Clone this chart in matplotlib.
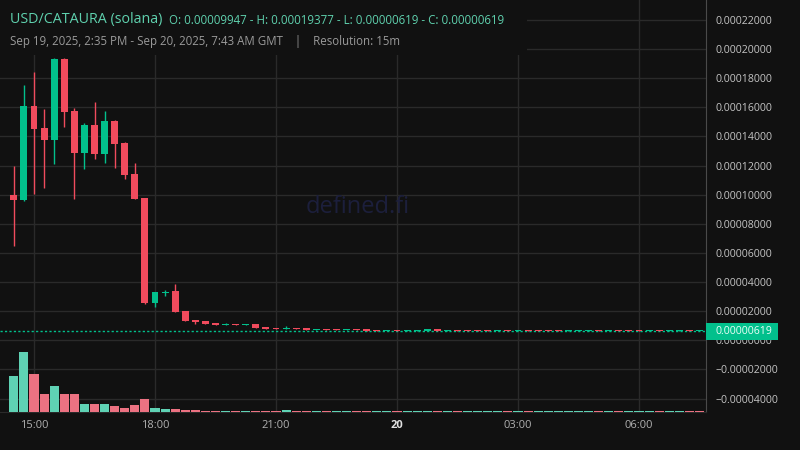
import matplotlib
matplotlib.use('Agg')
import matplotlib.pyplot as plt
import matplotlib.dates as mdates
from matplotlib.patches import Rectangle
from matplotlib.transforms import blended_transform_factory
from datetime import datetime, timedelta
import numpy as np

plt.rcParams['font.family'] = ['Open Sans', 'DejaVu Sans']
plt.rcParams['lines.scale_dashes'] = False

# ---------------- data ----------------
start_time = datetime(2025, 9, 19, 14, 30)
interval_minutes = 15

opens = [9.947e-5, 9.64e-5, 1.609e-4, 1.458e-4, 1.376e-4, 1.932e-4, 1.575e-4, 1.286e-4, 1.479e-4, 1.280e-4,
         1.506e-4, 1.355e-4, 1.142e-4, 9.77e-5, 2.56e-5, 3.25e-5, 3.39e-5, 2.01e-5, 1.39e-5, 1.30e-5,
         1.19e-5, 1.05e-5, 1.10e-5, 1.05e-5, 1.12e-5, 9.10e-6, 8.20e-6, 7.70e-6, 8.20e-6, 8.20e-6,
         7.00e-6, 7.70e-6, 7.70e-6, 7.10e-6, 7.70e-6, 7.70e-6, 7.00e-6, 6.40e-6, 7.00e-6, 6.40e-6,
         6.40e-6, 6.40e-6, 7.70e-6, 6.40e-6, 7.00e-6, 7.00e-6, 7.00e-6, 7.00e-6, 6.40e-6, 7.00e-6,
         6.40e-6, 7.00e-6, 7.00e-6, 7.00e-6, 7.00e-6, 6.40e-6, 6.40e-6, 6.40e-6, 7.00e-6, 6.40e-6,
         7.00e-6, 7.00e-6, 7.00e-6, 6.40e-6, 7.00e-6, 6.40e-6, 6.40e-6, 7.00e-6, 6.19e-6]
highs = [1.197e-4, 1.753e-4, 1.843e-4, 1.589e-4, 1.9377e-4, 1.937e-4, 1.595e-4, 1.492e-4, 1.637e-4, 1.575e-4,
         1.513e-4, 1.360e-4, 1.218e-4, 9.80e-5, 3.32e-5, 3.45e-5, 3.87e-5, 2.01e-5, 1.39e-5, 1.30e-5,
         1.19e-5, 1.19e-5, 1.10e-5, 1.10e-5, 1.12e-5, 9.10e-6, 8.20e-6, 9.80e-6, 8.20e-6, 8.20e-6,
         7.70e-6, 7.70e-6, 7.70e-6, 7.70e-6, 7.70e-6, 7.70e-6, 7.00e-6, 7.00e-6, 7.00e-6, 7.00e-6,
         7.00e-6, 7.70e-6, 7.70e-6, 7.00e-6, 7.00e-6, 7.00e-6, 7.00e-6, 7.00e-6, 7.00e-6, 7.00e-6,
         7.00e-6, 7.00e-6, 7.00e-6, 7.00e-6, 7.00e-6, 7.00e-6, 7.00e-6, 7.00e-6, 7.00e-6, 7.00e-6,
         7.00e-6, 7.00e-6, 7.00e-6, 7.00e-6, 7.00e-6, 7.00e-6, 7.00e-6, 7.00e-6, 6.30e-6]
lows = [6.48e-5, 9.60e-5, 1.005e-4, 1.046e-4, 1.211e-4, 1.465e-4, 9.70e-5, 1.176e-4, 1.245e-4, 1.218e-4,
        1.183e-4, 1.108e-4, 9.70e-5, 2.49e-5, 2.29e-5, 3.04e-5, 1.94e-5, 1.30e-5, 1.13e-5, 1.10e-5,
        1.03e-5, 1.05e-5, 1.05e-5, 1.05e-5, 8.45e-6, 7.80e-6, 7.70e-6, 7.70e-6, 7.70e-6, 7.00e-6,
        7.00e-6, 7.10e-6, 7.10e-6, 7.10e-6, 7.10e-6, 6.40e-6, 6.40e-6, 6.40e-6, 6.40e-6, 6.40e-6,
        6.40e-6, 6.40e-6, 6.40e-6, 6.40e-6, 6.40e-6, 6.40e-6, 6.40e-6, 6.40e-6, 6.40e-6, 6.40e-6,
        6.40e-6, 6.40e-6, 6.40e-6, 6.40e-6, 6.40e-6, 6.40e-6, 6.40e-6, 6.40e-6, 6.40e-6, 6.40e-6,
        6.40e-6, 6.40e-6, 6.40e-6, 6.40e-6, 6.40e-6, 6.40e-6, 6.40e-6, 6.40e-6, 6.19e-6]
closes = [9.64e-5, 1.609e-4, 1.451e-4, 1.376e-4, 1.932e-4, 1.568e-4, 1.286e-4, 1.479e-4, 1.280e-4, 1.506e-4,
          1.348e-4, 1.135e-4, 9.70e-5, 2.56e-5, 3.32e-5, 3.35e-5, 1.94e-5, 1.33e-5, 1.26e-5, 1.12e-5,
          1.05e-5, 1.10e-5, 1.05e-5, 1.10e-5, 8.45e-6, 7.80e-6, 7.70e-6, 8.20e-6, 7.70e-6, 7.00e-6,
          7.70e-6, 7.10e-6, 7.10e-6, 7.70e-6, 7.10e-6, 6.40e-6, 6.40e-6, 7.00e-6, 6.40e-6, 7.00e-6,
          7.00e-6, 7.70e-6, 6.40e-6, 7.00e-6, 6.40e-6, 6.40e-6, 6.40e-6, 6.40e-6, 7.00e-6, 6.40e-6,
          7.00e-6, 6.40e-6, 6.40e-6, 6.40e-6, 6.40e-6, 7.00e-6, 7.00e-6, 7.00e-6, 6.40e-6, 7.00e-6,
          6.40e-6, 6.40e-6, 6.40e-6, 7.00e-6, 6.40e-6, 7.00e-6, 7.00e-6, 6.40e-6, 6.19e-6]
volumes = [3570, 5970, 3770, 1770, 2570, 1770, 1770, 770, 770, 770,
           570, 370, 670, 1270, 370, 270, 270, 170, 170, 70,
           80, 70, 60, 70, 80, 70, 60, 170, 60, 70,
           60, 60, 70, 60, 60, 70, 60, 60, 60, 60,
           60, 70, 70, 60, 60, 60, 60, 60, 60, 60,
           60, 60, 60, 60, 60, 60, 60, 60, 60, 60,
           60, 60, 60, 60, 60, 60, 60, 60, 60]

price_ticks = [-0.00004, -0.00002, 0.0, 0.00002, 0.00004, 0.00006, 0.00008, 0.00010,
               0.00012, 0.00014, 0.00016, 0.00018, 0.00020, 0.00022]
time_ticks = [datetime(2025, 9, 19, 15), datetime(2025, 9, 19, 18), datetime(2025, 9, 19, 21),
              datetime(2025, 9, 20, 0), datetime(2025, 9, 20, 3), datetime(2025, 9, 20, 6)]
time_tick_labels = ['15:00', '18:00', '21:00', '20', '03:00', '06:00']

title_pair = 'USD/CATAURA (solana)'
title_ohlc = 'O: 0.00009947 - H: 0.00019377 - L: 0.00000619 - C: 0.00000619'
subtitle = 'Sep 19, 2025, 2:35 PM - Sep 20, 2025, 7:43 AM GMT    |    Resolution: 15m'
last_price = 0.00000619

# ---------------- style ----------------
BG = '#111111'
GRID = '#2a2a2a'
UP = '#02c08c'
DOWN = '#f04b5d'
VOL_UP = '#5fd2b4'
VOL_DOWN = '#ec7282'
TEAL_TEXT = '#5fd1ae'

fig = plt.figure(figsize=(8, 4.5), dpi=100, facecolor=BG)
W, H = 800, 450
ax_left, ax_right, ax_top, ax_bottom = 0, 706, 0, 412
ax = fig.add_axes([ax_left / W, 1 - ax_bottom / H, (ax_right - ax_left) / W, (ax_bottom - ax_top) / H])
ax.set_facecolor(BG)

# volume overlay axis (created first; twinx moves the host y-axis to the left, fixed later)
ax2 = ax.twinx()

times = [start_time + timedelta(minutes=interval_minutes * i) for i in range(len(opens))]
x = mdates.date2num(times)
step = interval_minutes / (24 * 60)

o = np.array(opens); c = np.array(closes); h = np.array(highs); l = np.array(lows)
up = c >= o
colors = np.where(up, UP, DOWN)

ax.vlines(x, l, h, colors=colors, linewidth=1, zorder=3)
ax.bar(x, np.maximum(np.abs(c - o), 6e-7), bottom=np.minimum(o, c), width=step * 0.69,
       color=colors, linewidth=0, zorder=3.1)

xlim = (mdates.date2num(datetime(2025, 9, 19, 14, 9, 24)), mdates.date2num(datetime(2025, 9, 20, 7, 39, 42)))
ax.set_xlim(xlim)
ax.set_ylim(-4.92e-5, 2.337e-4)

ax.set_axisbelow(True)
ax.grid(True, color=GRID, linewidth=1)
for s in ['left', 'top']:
    ax.spines[s].set_visible(False)
ax.spines['right'].set_color('#4a4a4a')
ax.spines['bottom'].set_color(GRID)

ax.yaxis.tick_right()
ax.yaxis.set_label_position('right')
ax.set_yticks(price_ticks)
ax.set_yticklabels([f'{v:.8f}'.replace('-', '\u2212') for v in price_ticks])
ax.tick_params(axis='y', which='both', left=False, right=False, labelleft=False, labelright=True,
               length=0, pad=7, labelsize=7.6, labelcolor='#c4c4c4')
ax.set_xticks(mdates.date2num(time_ticks))
ax.set_xticklabels(time_tick_labels)
ax.tick_params(axis='x', length=0, pad=6, labelsize=8, labelcolor='#b0b0b0')
lbls = ax.get_xticklabels()
lbls[3].set_fontweight('bold')
lbls[3].set_color('#e0e0e0')

# last price dashed line
ax.axhline(last_price, color=UP, linewidth=1, linestyle=(0, (1.6, 1.6)), zorder=2.9)

# watermark
ax.text(0.507, 0.497, 'defined.fi', transform=ax.transAxes, ha='center', va='center',
        fontsize=17, color='#1c1f3c', zorder=1)

# title background box
ax.add_patch(Rectangle((0, 1 - 55 / H), 527 / W, 55 / H, transform=fig.transFigure,
                       facecolor=BG, edgecolor='none', zorder=2.5, clip_on=False))

# volume bars
ax2.set_ylim(0, 41200)
ax2.set_xlim(xlim)
prev = np.concatenate([[c[0]], c[:-1]])
vol_up = c >= prev
vol_up[0] = True
ax2.bar(x, volumes, width=step * 0.9, color=np.where(vol_up, VOL_UP, VOL_DOWN), linewidth=0, zorder=3)
ax2.axis('off')

# last price label box
tr = blended_transform_factory(fig.transFigure, ax.transData)
box_h = 17 * (ax.get_ylim()[1] - ax.get_ylim()[0]) / (ax_bottom - ax_top)
fig.add_artist(Rectangle((706 / W, last_price - box_h / 2), 72 / W, box_h, transform=tr,
                         facecolor=UP, edgecolor='none', zorder=5))
fig.text(716 / W, last_price, f'{last_price:.8f}', transform=tr, va='center', ha='left',
         fontsize=7.6, color='#eafff8', zorder=6)

# titles
t1 = fig.text(10 / W, 1 - 20 / H, title_pair, fontsize=10.3, color=TEAL_TEXT, va='center', ha='left', zorder=6)
ax.annotate(title_ohlc, xy=(1, 0.5), xycoords=t1, xytext=(5, 0), textcoords='offset points',
            fontsize=8.3, color=TEAL_TEXT, va='center', ha='left', zorder=6, annotation_clip=False)
fig.text(10 / W, 1 - 41.5 / H, subtitle, fontsize=8.3, color='#9a9a9a', va='center', ha='left', zorder=6)

fig.savefig('out.png', dpi=100, facecolor=BG)
